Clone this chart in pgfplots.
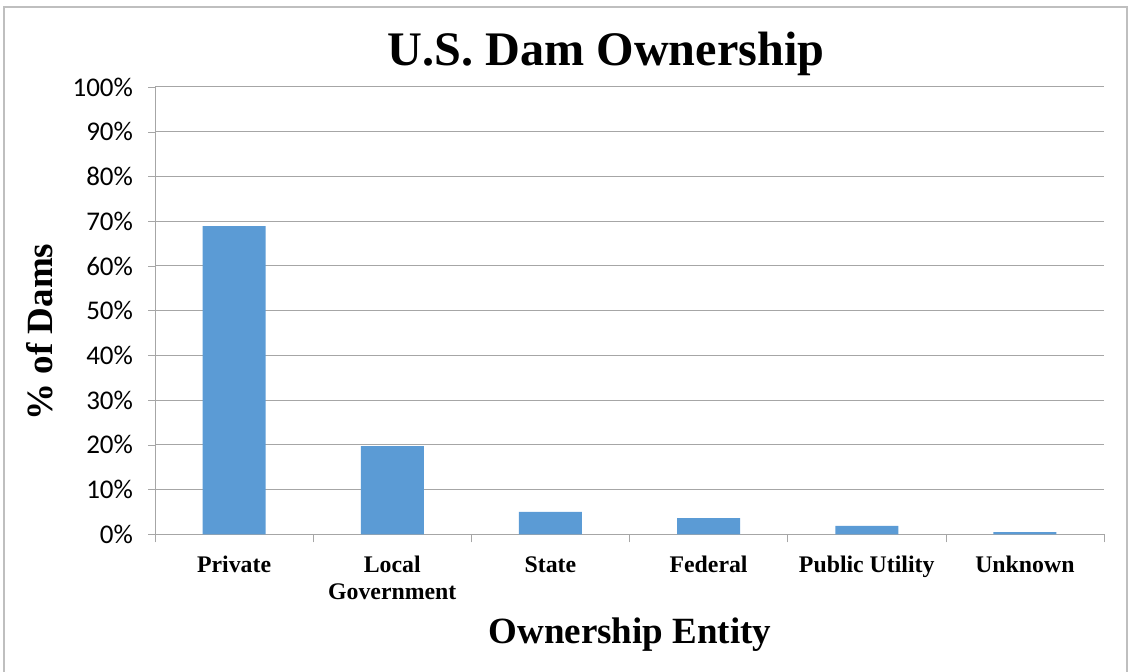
\documentclass[border=0pt]{standalone}
\usepackage{pgfplots}
\pgfplotsset{compat=1.18}
\usepackage{fontspec}
\setmainfont{Liberation Serif}
\newfontfamily\calibri{Carlito}
\definecolor{barblue}{HTML}{5B9BD5}
\definecolor{gridgray}{HTML}{A6A6A6}
\definecolor{framegray}{HTML}{BFBFBF}
\begin{document}
\begin{tikzpicture}[x=1pt,y=1pt]
\useasboundingbox (0,0) rectangle (565,335.5);
\draw[framegray, line width=0.6pt] (2,-5) -- (2,332) -- (563.5,332) -- (563.5,-5);
\begin{axis}[
  at={(77.5pt,68.35pt)}, anchor=south west,
  scale only axis, width=474.5pt, height=223.65pt,
  xmin=-0.5, xmax=5.5, ymin=0, ymax=100,
  axis x line=bottom, axis y line=left,
  axis line style={gridgray, -},
  ybar, bar width=31.5pt,
  xtick={0,1,2,3,4,5},
  xticklabels={Private, {Local\\Government}, State, Federal, Public Utility, Unknown},
  xticklabel style={font=\bfseries\fontsize{11.9}{13.5}\selectfont, align=center, anchor=north, yshift=-4pt},
  major x tick style={draw=none},
  minor xtick={-0.5,0.5,1.5,2.5,3.5,4.5,5.5},
  minor x tick style={gridgray},
  minor tick length=4pt,
  ytick={0,10,...,100},
  yticklabel={\pgfmathprintnumber{\tick}\%},
  yticklabel style={font=\calibri\fontsize{13.5}{14}\selectfont, xshift=-4pt},
  /pgf/number format/assume math mode=true,
  major y tick style={gridgray},
  tick align=outside,
  major tick length=3.5pt,
  ymajorgrids, grid style={gridgray, line width=0.5pt},
]
\addplot[fill=barblue, draw=none] coordinates {(0,68.9) (1,19.7) (2,5.0) (3,3.6) (4,1.9) (5,0.5)};
\end{axis}
\node[font=\bfseries\fontsize{24.1}{26}\selectfont] at (303,308.5) {U.S. Dam Ownership};
\node[font=\bfseries\fontsize{18.5}{20}\selectfont, rotate=90] at (20,169.5) {\% of Dams};
\node[font=\bfseries\fontsize{18.5}{20}\selectfont] at (315,18) {Ownership Entity};
\end{tikzpicture}
\end{document}
